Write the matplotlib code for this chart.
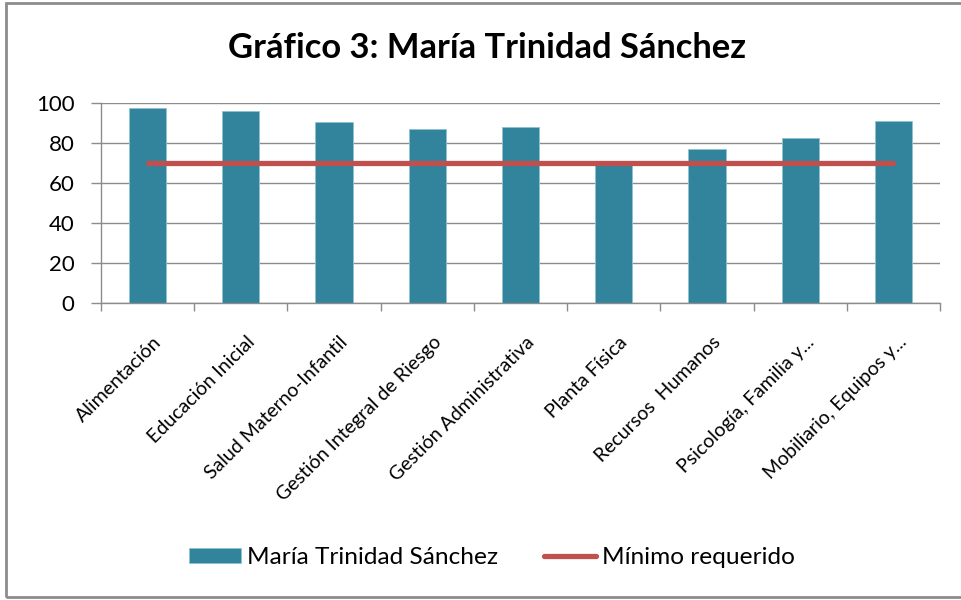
import matplotlib
matplotlib.use("Agg")
import matplotlib.pyplot as plt
from matplotlib.patches import Rectangle
from matplotlib.lines import Line2D
from matplotlib.transforms import ScaledTranslation
import numpy as np

categories = ["Alimentación", "Educación Inicial", "Salud Materno-Infantil",
              "Gestión Integral de Riesgo", "Gestión Administrativa", "Planta Física",
              "Recursos  Humanos", "Psicología, Familia y...", "Mobiliario, Equipos y..."]
values = [97.3, 96.2, 90.3, 87.2, 87.8, 69.5, 76.8, 82.7, 91.0]
minimo = [70] * 9
yticks = [0, 20, 40, 60, 80, 100]

plt.rcParams['font.family'] = ['Lato', 'DejaVu Sans']

W, H = 961, 600
fig = plt.figure(figsize=(W / 100, H / 100), dpi=100)
ax = fig.add_axes([101 / W, 1 - 303 / H, (940 - 101) / W, 200 / H])

teal = "#31849B"
red = "#C0504D"
grid = "#8C8C8C"

x = np.arange(len(categories))
ax.bar(x, values, width=0.4, color=teal, edgecolor="#8EC3D2", linewidth=0.6, zorder=2,
       label="María Trinidad Sánchez")
ax.plot(x, minimo, color=red, linewidth=3.8, solid_capstyle="round", zorder=3,
        label="Mínimo requerido")

ax.set_xlim(-0.5, len(categories) - 0.5)
ax.set_ylim(0, 100)
ax.set_yticks(yticks)
ax.set_yticklabels([str(v) for v in yticks], fontsize=16, color="#000000")
ax.yaxis.grid(True, color=grid, linewidth=1.0, zorder=0)
ax.set_axisbelow(True)
ax.tick_params(axis="y", length=7, width=1, color=grid, pad=12)

ax.set_xticks(np.arange(-0.5, len(categories), 1.0))
ax.set_xticklabels([])
ax.tick_params(axis="x", length=6, width=1, color=grid)
ax.set_xticks(x, minor=True)
labs = ax.set_xticklabels(categories, minor=True, rotation=45, ha="right", va="top",
                          rotation_mode="anchor", fontsize=14.0)
ax.tick_params(axis="x", which="minor", length=0, pad=22)
off = ScaledTranslation(5 / 100, 0, fig.dpi_scale_trans)
for t in labs:
    t.set_transform(t.get_transform() + off)

for s in ["top", "right"]:
    ax.spines[s].set_visible(False)
for s in ["left", "bottom"]:
    ax.spines[s].set_color(grid)
    ax.spines[s].set_linewidth(1.0)

fig.text(487 / W, 1 - 48 / H, "Gráfico 3: María Trinidad Sánchez", ha="center", va="center",
         fontsize=24.8, fontweight="bold")

handles = [Rectangle((0, 0), 1, 1, facecolor=teal, edgecolor="#8EC3D2", linewidth=0.6),
           Line2D([0], [0], color=red, linewidth=3.8, solid_capstyle="round")]
fig.legend(handles, ["María Trinidad Sánchez", "Mínimo requerido"], loc="center",
           bbox_to_anchor=(492 / W, 1 - 558 / H), ncol=2, frameon=False, fontsize=17.6,
           handlelength=2.1, handleheight=0.57, handletextpad=0.25, columnspacing=1.9,
           borderpad=0, borderaxespad=0)

border = Rectangle((6 / W, 3 / H), 1.2, 1 - 6 / H, transform=fig.transFigure,
                   fill=False, edgecolor="#8C8C8C", linewidth=2.0)
fig.patches.append(border)

fig.savefig("out.png", dpi=100)
